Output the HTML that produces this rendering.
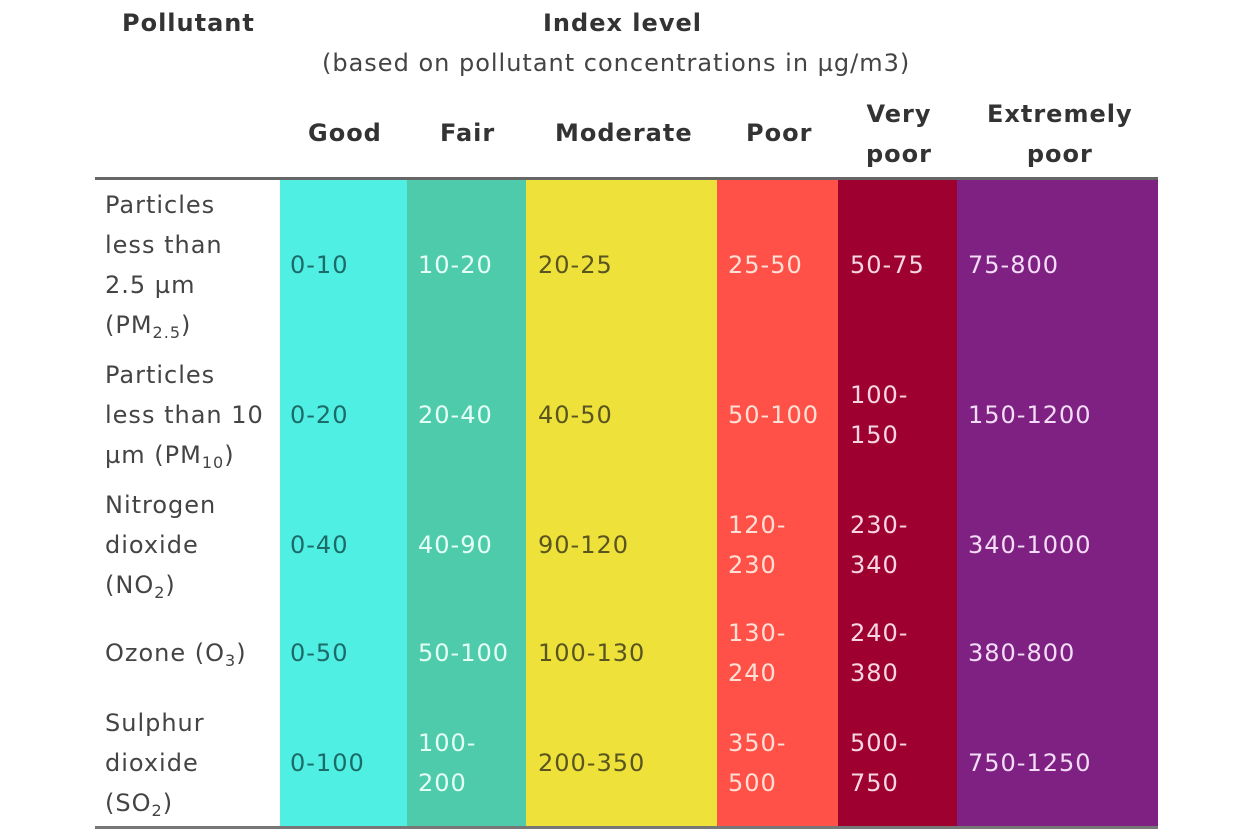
<!DOCTYPE html><html><head><style>
body{margin:0;width:1250px;height:830px;background:#fff;position:relative;overflow:hidden;font-family:"DejaVu Sans","Liberation Sans",sans-serif;}
.a{position:absolute;font-size:24px;line-height:40px;letter-spacing:1px;white-space:nowrap;color:#444}
.b{font-weight:bold;color:#333}
.c{position:absolute;top:180px;height:647px}
sub{font-size:16px;vertical-align:-5px;line-height:0}
</style></head><body>
<div class="c" style="left:280px;width:127px;background:#50EFE3"></div>
<div class="c" style="left:407px;width:119px;background:#4ECBAA"></div>
<div class="c" style="left:526px;width:191px;background:#EEE23A"></div>
<div class="c" style="left:717px;width:121px;background:#FF5147"></div>
<div class="c" style="left:838px;width:119px;background:#9E0030"></div>
<div class="c" style="left:957px;width:201px;background:#7E2182"></div>
<div style="position:absolute;left:95px;top:177px;width:1063px;height:3px;background:#666"></div>
<div style="position:absolute;left:95px;top:826px;width:1063px;height:3px;background:#777"></div>

<div class="a b" style="left:122px;top:3px">Pollutant</div>
<div class="a b" style="left:543px;top:3px">Index level</div>
<div class="a" style="left:322px;top:43px">(based on pollutant concentrations in µg/m3)</div>
<div class="a b" style="left:308px;top:113px">Good</div>
<div class="a b" style="left:440px;top:113px">Fair</div>
<div class="a b" style="left:555px;top:113px">Moderate</div>
<div class="a b" style="left:746px;top:113px">Poor</div>
<div class="a b" style="left:866px;top:94px;text-align:center">Very<br>poor</div>
<div class="a b" style="left:987px;top:94px;text-align:center">Extremely<br>poor</div>

<div class="a" style="left:105px;top:185px">Particles<br>less than<br>2.5 µm<br>(PM<sub>2.5</sub>)</div>
<div class="a" style="left:105px;top:355px">Particles<br>less than 10<br>µm (PM<sub>10</sub>)</div>
<div class="a" style="left:105px;top:485px">Nitrogen<br>dioxide<br>(NO<sub>2</sub>)</div>
<div class="a" style="left:105px;top:633px">Ozone (O<sub>3</sub>)</div>
<div class="a" style="left:105px;top:703px">Sulphur<br>dioxide<br>(SO<sub>2</sub>)</div>

<div class="a" style="left:290px;top:245px;color:#1d6b68">0-10</div>
<div class="a" style="left:290px;top:395px;color:#1d6b68">0-20</div>
<div class="a" style="left:290px;top:525px;color:#1d6b68">0-40</div>
<div class="a" style="left:290px;top:633px;color:#1d6b68">0-50</div>
<div class="a" style="left:290px;top:743px;color:#1d6b68">0-100</div>

<div class="a" style="left:418px;top:245px;color:#e6fff6">10-20</div>
<div class="a" style="left:418px;top:395px;color:#e6fff6">20-40</div>
<div class="a" style="left:418px;top:525px;color:#e6fff6">40-90</div>
<div class="a" style="left:418px;top:633px;color:#e6fff6">50-100</div>
<div class="a" style="left:418px;top:723px;color:#e6fff6">100-<br>200</div>

<div class="a" style="left:538px;top:245px;color:#5a5520">20-25</div>
<div class="a" style="left:538px;top:395px;color:#5a5520">40-50</div>
<div class="a" style="left:538px;top:525px;color:#5a5520">90-120</div>
<div class="a" style="left:538px;top:633px;color:#5a5520">100-130</div>
<div class="a" style="left:538px;top:743px;color:#5a5520">200-350</div>

<div class="a" style="left:728px;top:245px;color:#ffe0d6">25-50</div>
<div class="a" style="left:728px;top:395px;color:#ffe0d6">50-100</div>
<div class="a" style="left:728px;top:505px;color:#ffe0d6">120-<br>230</div>
<div class="a" style="left:728px;top:613px;color:#ffe0d6">130-<br>240</div>
<div class="a" style="left:728px;top:723px;color:#ffe0d6">350-<br>500</div>

<div class="a" style="left:850px;top:245px;color:#f5d6e2">50-75</div>
<div class="a" style="left:850px;top:375px;color:#f5d6e2">100-<br>150</div>
<div class="a" style="left:850px;top:505px;color:#f5d6e2">230-<br>340</div>
<div class="a" style="left:850px;top:613px;color:#f5d6e2">240-<br>380</div>
<div class="a" style="left:850px;top:723px;color:#f5d6e2">500-<br>750</div>

<div class="a" style="left:968px;top:245px;color:#f3dcf5">75-800</div>
<div class="a" style="left:968px;top:395px;color:#f3dcf5">150-1200</div>
<div class="a" style="left:968px;top:525px;color:#f3dcf5">340-1000</div>
<div class="a" style="left:968px;top:633px;color:#f3dcf5">380-800</div>
<div class="a" style="left:968px;top:743px;color:#f3dcf5">750-1250</div>
</body></html>
